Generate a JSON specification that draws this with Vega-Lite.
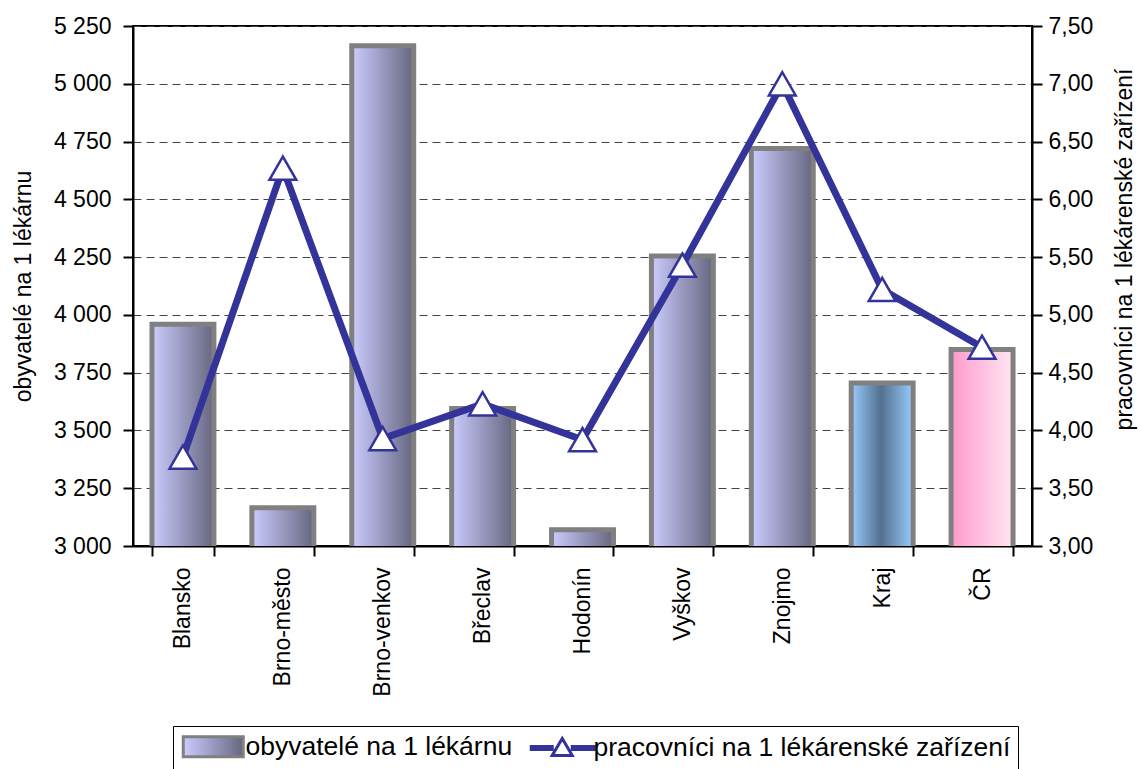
{
  "$schema": "https://vega.github.io/schema/vega-lite/v6.json",
  "width": 899,
  "height": 520,
  "autosize": {"type": "none"},
  "padding": {"left": 133, "top": 26, "right": 107, "bottom": 223},
  "background": "white",
  "config": {
    "font": "Liberation Sans",
    "view": {"stroke": "black", "strokeWidth": 2},
    "axis": {
      "labelFont": "Liberation Sans",
      "titleFont": "Liberation Sans",
      "labelFontSize": 23,
      "titleFontSize": 23,
      "titleFontWeight": "normal",
      "labelColor": "black",
      "titleColor": "black",
      "tickColor": "black",
      "tickSize": 10,
      "tickWidth": 2,
      "domainColor": "black",
      "domainWidth": 2
    },
    "legend": {
      "direction": "horizontal",
      "strokeColor": "black",
      "padding": 7,
      "symbolSize": 400,
      "symbolStrokeWidth": 3,
      "symbolOpacity": 1,
      "labelFontSize": 26.5,
      "labelFont": "Liberation Sans",
      "labelColor": "black",
      "labelLimit": 0,
      "labelOffset": 39,
      "columnPadding": 12
    }
  },
  "data": {
    "values": [
      {"okres": "Blansko", "obyv": 3960, "prac": 3.77, "kind": "okres"},
      {"okres": "Brno-město", "obyv": 3165, "prac": 6.27, "kind": "okres"},
      {"okres": "Brno-venkov", "obyv": 5165, "prac": 3.93, "kind": "okres"},
      {"okres": "Břeclav", "obyv": 3595, "prac": 4.23, "kind": "okres"},
      {"okres": "Hodonín", "obyv": 3070, "prac": 3.92, "kind": "okres"},
      {"okres": "Vyškov", "obyv": 4255, "prac": 5.43, "kind": "okres"},
      {"okres": "Znojmo", "obyv": 4720, "prac": 7.0, "kind": "okres"},
      {"okres": "Kraj", "obyv": 3705, "prac": 5.22, "kind": "kraj"},
      {"okres": "ČR", "obyv": 3850, "prac": 4.72, "kind": "cr"}
    ]
  },
  "layer": [
    {
      "encoding": {
        "x": {
          "field": "okres", "type": "nominal", "sort": null,
          "scale": {"paddingInner": 0.38, "paddingOuter": 0.19},
          "axis": {"title": null, "labelAngle": -90, "labelPadding": 11, "tickBand": "extent", "labelFontSize": 23}
        },
        "y": {
          "field": "obyv", "type": "quantitative",
          "scale": {"domain": [3000, 5250], "zero": false, "nice": false},
          "axis": {
            "title": "obyvatelé na 1 lékárnu",
            "values": [3000, 3250, 3500, 3750, 4000, 4250, 4500, 4750, 5000, 5250],
            "labelExpr": "replace(format(datum.value, ','), ',', ' ')",
            "grid": true, "gridDash": [8, 5], "gridColor": "#444444", "gridWidth": 1,
            "labelPadding": 12, "titlePadding": 18
          }
        }
      },
      "layer": [
        {
          "transform": [{"filter": "datum.kind === 'okres'"}],
          "mark": {"type": "bar", "clip": true, "stroke": "#808080", "strokeWidth": 5,
            "fill": {"gradient": "linear", "x1": 0, "y1": 0, "x2": 1, "y2": 0,
              "stops": [{"offset": 0, "color": "#ccccff"}, {"offset": 1, "color": "#666680"}]}}
        },
        {
          "transform": [{"filter": "datum.kind === 'kraj'"}],
          "mark": {"type": "bar", "clip": true, "stroke": "#808080", "strokeWidth": 5,
            "fill": {"gradient": "linear", "x1": 0, "y1": 0, "x2": 1, "y2": 0,
              "stops": [{"offset": 0, "color": "#99ccff"}, {"offset": 0.48, "color": "#53708e"}, {"offset": 1, "color": "#99ccff"}]}}
        },
        {
          "transform": [{"filter": "datum.kind === 'cr'"}],
          "mark": {"type": "bar", "clip": true, "stroke": "#808080", "strokeWidth": 5,
            "fill": {"gradient": "linear", "x1": 0, "y1": 0, "x2": 1, "y2": 0,
              "stops": [{"offset": 0, "color": "#ff99cc"}, {"offset": 1, "color": "#ffe6f2"}]}}
        }
      ]
    },
    {
      "encoding": {
        "x": {"field": "okres", "type": "nominal", "sort": null},
        "y": {
          "field": "prac", "type": "quantitative",
          "scale": {"domain": [3, 7.5], "zero": false, "nice": false},
          "axis": {
            "orient": "right",
            "title": "pracovníci na 1 lékárenské zařízení",
            "titleAngle": -90,
            "titleY": 223,
            "values": [3, 3.5, 4, 4.5, 5, 5.5, 6, 6.5, 7, 7.5],
            "labelExpr": "replace(format(datum.value, '.2f'), '.', ',')",
            "grid": false, "labelPadding": 6, "titlePadding": 44
          }
        }
      },
      "layer": [
        {
          "mark": {"type": "line", "color": "#333399", "strokeWidth": 7}
        },
        {
          "mark": {"type": "point", "shape": "triangle-up", "size": 720, "filled": true, "fill": "white", "stroke": "#333399", "strokeWidth": 2.5, "opacity": 1}
        },
        {
          "mark": {"type": "point", "filled": true, "opacity": 0, "strokeWidth": 3, "size": 10},
          "encoding": {
            "shape": {
              "datum": "pracovníci na 1 lékárenské zařízení", "type": "nominal",
              "scale": {"domain": ["obyvatelé na 1 lékárnu", "pracovníci na 1 lékárenské zařízení"],
                "range": ["M-1,-1H5V1H-1Z", "M-1,-0.15H1.1V0.15H-1Z M3.1,-0.15H5.3V0.15H3.1Z M1.1,0.75L2.1,-0.95L3.1,0.75Z"]},
              "legend": {"title": null, "orient": "none", "legendX": 40, "legendY": 700}
            },
            "stroke": {
              "datum": "pracovníci na 1 lékárenské zařízení", "type": "nominal",
              "scale": {"domain": ["obyvatelé na 1 lékárnu", "pracovníci na 1 lékárenské zařízení"], "range": ["#808080", "#333399"]},
              "legend": {"title": null, "orient": "none", "legendX": 40, "legendY": 700}
            },
            "fill": {
              "datum": "pracovníci na 1 lékárenské zařízení", "type": "nominal",
              "scale": {"domain": ["obyvatelé na 1 lékárnu", "pracovníci na 1 lékárenské zařízení"],
                "range": [{"expr": "{gradient: 'linear', x1: 0, y1: 0, x2: 1, y2: 0, stops: [{offset: 0, color: '#ccccff'}, {offset: 1, color: '#666680'}]}"}, "white"]},
              "legend": {"title": null, "orient": "none", "legendX": 40, "legendY": 700}
            }
          }
        }
      ]
    }
  ],
  "resolve": {"scale": {"y": "independent"}}
}
